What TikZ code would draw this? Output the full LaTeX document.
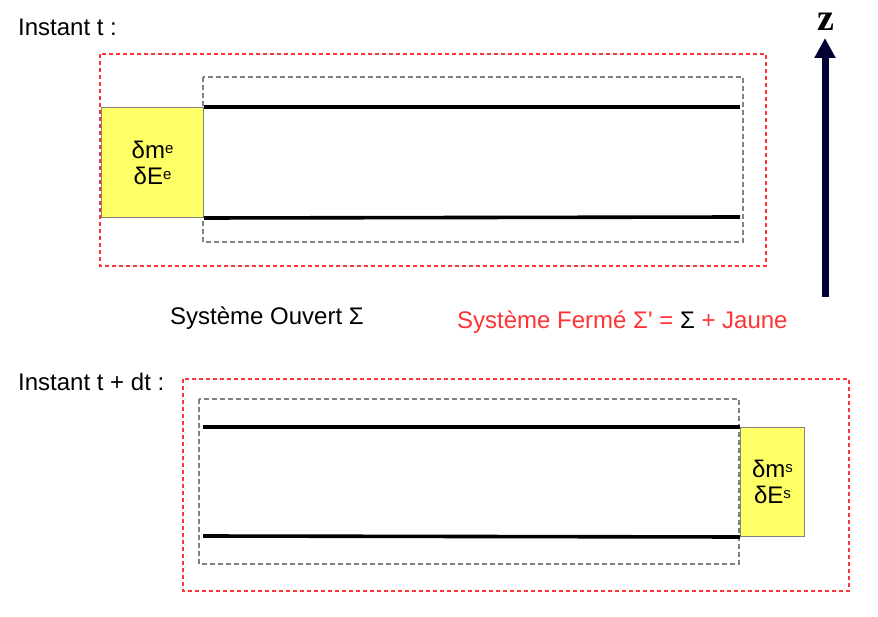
\documentclass[tikz,border=0pt]{standalone}
\usepackage{fontspec}
\setmainfont{Liberation Sans}[Ligatures=TeXOff]
\newfontfamily\zfont{Liberation Serif}
\usetikzlibrary{arrows.meta}
\definecolor{redd}{HTML}{FF3333}
\definecolor{grayd}{HTML}{808080}
\definecolor{yel}{HTML}{FFFF66}
\definecolor{navy}{HTML}{000033}
\newcommand{\supx}[1]{\raisebox{5pt}{\fontsize{15}{16}\selectfont #1}}
\begin{document}
\begin{tikzpicture}[x=1pt,y=-1pt,
  graybox/.style={draw=grayd,line width=1.3pt,dash pattern=on 5pt off 3pt},
  yelbox/.style={fill=yel,draw=grayd,line width=1pt,inner sep=0pt,align=center,font=\fontsize{24}{26}\selectfont},
  pipe/.style={line width=3.6pt,black},
  lbl/.style={font=\fontsize{24}{28}\selectfont,inner sep=0pt}]
\useasboundingbox (0,0) rectangle (878,617);
% ---- top ----
\node[lbl,anchor=west] (it) at (18,27) {Instant t :};
\draw[redd,line width=1.3pt,dash pattern=on 4pt off 3pt] (100,54) rectangle (766,266);
\draw[graybox] (203,77) rectangle (743,242);
\node[yelbox,minimum width=102pt,minimum height=110pt,anchor=north west] (ye) at (101,107) {δm\supx{e}\\δE\supx{e}};
\coordinate (t1) at (740,107);
\coordinate (t2) at (740,217);
\draw[pipe] (ye.north east) -- (t1);
\draw[pipe] (ye.south east) -- (t2);
% axis
\coordinate (zb) at (825,297);
\coordinate (zt) at (825,38);
\draw[navy,line width=7pt,-{Triangle[width=20pt,length=20pt]}] (zb) -- (zt);
\node[font=\fontsize{38}{40}\selectfont\zfont\bfseries,inner sep=0pt] (z) at (826,22) {z};
% labels
\node[lbl,anchor=west] (so) at (170,318) {Système Ouvert Σ};
\node[lbl,anchor=west,text=redd] (sf) at (457,322) {Système Fermé Σ' = \textcolor{black}{Σ} + Jaune};
% ---- bottom ----
\node[lbl,anchor=west] (it2) at (18,382) {Instant t + dt :};
\draw[redd,line width=1.3pt,dash pattern=on 4pt off 3pt] (183,379) rectangle (849,591);
\draw[graybox] (199,399) rectangle (739,564);
\node[yelbox,minimum width=64pt,minimum height=109pt,anchor=north west] (ys) at (740,427) {δm\supx{s}\\δE\supx{s}};
\coordinate (b1) at (203,427);
\coordinate (b2) at (203,536);
\draw[pipe] (b1) -- (ys.north west);
\draw[pipe] (b2) -- (ys.south west);
\end{tikzpicture}
\end{document}
